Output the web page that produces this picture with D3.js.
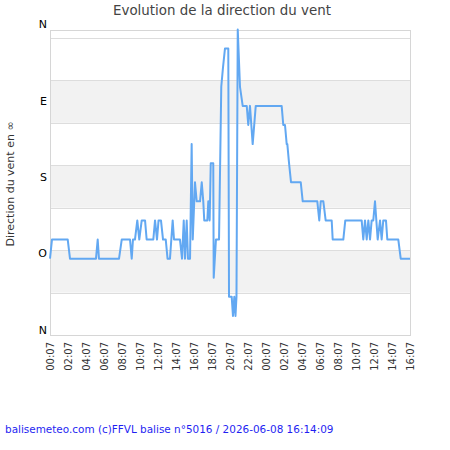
<!doctype html>
<html lang="fr">
<head>
<meta charset="utf-8" />
<title>Evolution de la direction du vent</title>
<script src="https://d3js.org/d3.v7.min.js"></script>
<style>
  body { margin: 0; background: #fff; }
  svg text { font-family: "DejaVu Sans", sans-serif; }
</style>
</head>
<body>
<div id="svg_div"></div>
<script>
// heures depuis 00:07 le premier jour, et direction en degres
var hours = [0, 0.22, 1.97, 2.22, 5.11, 5.3, 5.44, 7.67, 7.97, 8.89, 9.08, 9.22, 9.44, 9.7, 9.92,
  10.19, 10.56, 10.74, 11.48, 11.67, 11.89, 12.06, 12.33, 12.56, 12.86, 13.06, 13.33, 13.63, 13.78,
  14.44, 14.67, 14.86, 15.0, 15.19, 15.33, 15.56, 15.74, 15.86, 16.11, 16.3, 16.67, 16.86, 17.03,
  17.14, 17.48, 17.59, 17.74, 17.86, 18.14, 18.19, 18.44, 18.78, 19.03, 19.22, 19.44, 19.81, 19.89,
  20.19, 20.33, 20.48, 20.61, 20.72, 20.86, 21.11, 21.41, 21.86, 22.03, 22.22, 22.52, 22.86, 25.74,
  25.92, 26.11, 26.3, 26.37, 26.56, 26.78, 27.86, 28.08, 29.7, 29.92, 30.08, 30.37, 30.63, 31.3,
  31.41, 32.59, 32.81, 34.63, 34.81, 35.0, 35.19, 35.37, 35.56, 35.74, 35.92, 36.11, 36.41, 36.67,
  36.85, 37.03, 37.33, 37.48, 38.7, 38.97, 40];
var directions = [90, 112.5, 112.5, 90, 90, 112.5, 90, 90, 112.5, 112.5, 90, 112.5, 112.5, 135, 112.5,
  135, 135, 112.5, 112.5, 135, 112.5, 135, 135, 112.5, 112.5, 90, 90, 135, 112.5,
  112.5, 90, 135, 90, 135, 90, 90, 225, 112.5, 180, 157.5, 157.5, 180, 157.5,
  135, 135, 157.5, 135, 202.5, 202.5, 67.5, 112.5, 112.5, 292.5, 315, 337.5, 337.5, 45,
  45, 22.5, 45, 22.5, 45, 360, 292.5, 270, 270, 247.5, 270, 225, 270, 270,
  247.5, 247.5, 225, 225, 202.5, 180, 180, 157.5, 157.5, 135, 157.5, 157.5, 135, 135,
  112.5, 112.5, 135, 135, 112.5, 135, 112.5, 135, 112.5, 135, 135, 157.5, 112.5, 135,
  112.5, 135, 135, 112.5, 112.5, 90, 90];

var dirTicks = [0, 90, 180, 270, 360];
var dirLabels = ["N", "O", "S", "E", "N"];
var gridTicks = [0, 50, 100, 150, 200, 250, 300, 350];
var timeLabels = ["00:07", "02:07", "04:07", "06:07", "08:07", "10:07", "12:07", "14:07", "16:07",
  "18:07", "20:07", "22:07", "00:07", "02:07", "04:07", "06:07", "08:07", "10:07", "12:07",
  "14:07", "16:07"];

var width = 450, height = 450;
var plotLeft = 50, plotRight = 410, plotTop = 30, plotBottom = 335;

var svg = d3.select("#svg_div").append("svg")
  .attr("width", width)
  .attr("height", height);

var x = d3.scaleLinear().domain([0, 40]).range([plotLeft, plotRight]);
var y = d3.scaleLinear().domain([0, 360]).range([plotBottom, plotTop - 0.5]);

// bandes grises alternees
svg.selectAll("rect.band")
  .data([50, 150, 250])
  .enter().append("rect")
  .attr("class", "band")
  .attr("x", plotLeft)
  .attr("width", plotRight - plotLeft)
  .attr("y", function(d) { return y(d + 50); })
  .attr("height", function(d) { return y(d) - y(d + 50); })
  .attr("fill", "#f2f2f2");

// lignes de grille
svg.selectAll("line.grid")
  .data(gridTicks)
  .enter().append("line")
  .attr("x1", plotLeft).attr("x2", plotRight)
  .attr("y1", function(d) { return Math.round(y(d)) + 0.5; })
  .attr("y2", function(d) { return Math.round(y(d)) + 0.5; })
  .attr("stroke", "#dddddd")
  .attr("stroke-width", 1);

// cadre
svg.append("rect")
  .attr("x", plotLeft + 0.5).attr("y", plotTop + 0.5)
  .attr("width", plotRight - plotLeft).attr("height", plotBottom - plotTop)
  .attr("fill", "none")
  .attr("stroke", "#d6d6d6");

// la courbe
var line = d3.line()
  .x(function(d, i) { return x(hours[i]); })
  .y(function(d) { return y(d); });

svg.append("path")
  .datum(directions)
  .attr("d", line)
  .attr("fill", "none")
  .attr("stroke", "#62a8f2")
  .attr("stroke-width", 2)
  .attr("stroke-linejoin", "round");

// axe y : etiquettes de direction
var yAxis = d3.axisLeft(y)
  .tickValues(dirTicks)
  .tickSize(0)
  .tickPadding(0)
  .tickFormat(function(d, i) { return dirLabels[i]; });

var gy = svg.append("g")
  .attr("transform", "translate(" + (plotLeft - 3) + ",0)")
  .call(yAxis);
gy.select(".domain").remove();
gy.selectAll("text")
  .attr("dy", "-0.15em")
  .attr("font-size", "11px")
  .attr("font-family", "DejaVu Sans")
  .attr("fill", "#000");

// axe x : heures
var xAxis = d3.axisBottom(x)
  .tickValues(d3.range(0, 41, 2))
  .tickSize(0)
  .tickPadding(0)
  .tickFormat(function(d, i) { return timeLabels[i]; });

var gx = svg.append("g")
  .attr("transform", "translate(0," + plotBottom + ")")
  .call(xAxis);
gx.select(".domain").remove();
gx.selectAll("text")
  .attr("transform", "rotate(-90)")
  .attr("text-anchor", "end")
  .attr("x", -7)
  .attr("y", 0)
  .attr("dy", "0.35em")
  .attr("font-size", "10px")
  .attr("font-family", "DejaVu Sans")
  .attr("fill", "#333");

// titre
svg.append("text")
  .attr("x", 222)
  .attr("y", 15)
  .attr("text-anchor", "middle")
  .attr("font-size", "13.4px")
  .attr("fill", "#444")
  .text("Evolution de la direction du vent");

// titre de l'axe y
svg.append("text")
  .attr("transform", "translate(14,184) rotate(-90)")
  .attr("text-anchor", "middle")
  .attr("font-size", "11px")
  .attr("fill", "#333")
  .text("Direction du vent en \u221e");

// source
svg.append("text")
  .attr("x", 5)
  .attr("y", 433)
  .attr("font-size", "10.45px")
  .attr("fill", "#1f1ff2")
  .text("balisemeteo.com (c)FFVL balise n\u00b05016 / 2026-06-08 16:14:09");
</script>
</body>
</html>
